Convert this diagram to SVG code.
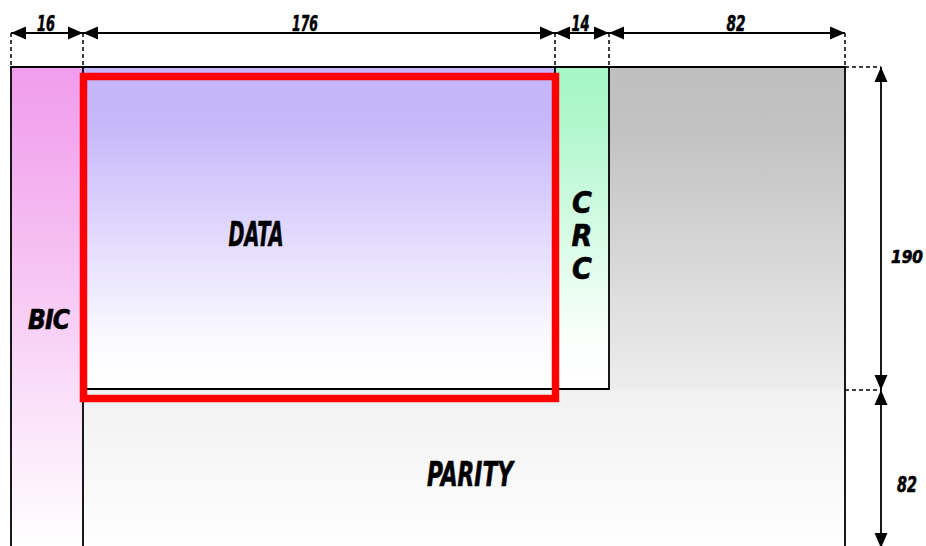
<svg xmlns="http://www.w3.org/2000/svg" width="926" height="546" viewBox="0 0 926 546">
<style>
.t{font-family:"Liberation Sans Narrow","DejaVu Sans Condensed","Liberation Sans",sans-serif;font-weight:bold;font-style:italic;fill:#000;stroke:#000;stroke-width:0.6;text-anchor:middle}
.ln{stroke:#000;stroke-width:1.8;fill:none}
.dim{stroke:#000;stroke-width:1.8;fill:none}
.dash{stroke:#000;stroke-width:1.5;stroke-dasharray:4,3;fill:none}
</style>
<defs>
<marker id="ah" markerUnits="userSpaceOnUse" markerWidth="16" markerHeight="14" refX="15" refY="6.5" orient="auto-start-reverse" viewBox="0 0 16 13">
<path d="M0,0 L15,6.5 L0,13 Z" fill="#000"/>
</marker>
<linearGradient id="gBic" x1="0" y1="67" x2="0" y2="546" gradientUnits="userSpaceOnUse">
<stop offset="0" stop-color="#f09ded"/><stop offset="0.15" stop-color="#f2a8ee"/><stop offset="1" stop-color="#ffffff"/>
</linearGradient>
<linearGradient id="gData" x1="0" y1="67" x2="0" y2="389" gradientUnits="userSpaceOnUse">
<stop offset="0" stop-color="#c5b5f9"/><stop offset="0.17" stop-color="#c6b7fa"/><stop offset="0.85" stop-color="#fbfaff"/><stop offset="1" stop-color="#ffffff"/>
</linearGradient>
<linearGradient id="gCrc" x1="0" y1="67" x2="0" y2="389" gradientUnits="userSpaceOnUse">
<stop offset="0" stop-color="#a6f6c6"/><stop offset="0.15" stop-color="#aef7cc"/><stop offset="0.85" stop-color="#fbfffc"/><stop offset="1" stop-color="#ffffff"/>
</linearGradient>
<linearGradient id="gGray" x1="0" y1="67" x2="0" y2="389" gradientUnits="userSpaceOnUse">
<stop offset="0" stop-color="#bfbfbf"/><stop offset="0.2" stop-color="#c2c2c2"/><stop offset="1" stop-color="#ededed"/>
</linearGradient>
<linearGradient id="gPar" x1="0" y1="389" x2="0" y2="546" gradientUnits="userSpaceOnUse">
<stop offset="0" stop-color="#f1f1f1"/><stop offset="1" stop-color="#fefefe"/>
</linearGradient>
</defs>

<g id="gray-area">
<rect x="609" y="67" width="236" height="322" fill="url(#gGray)"/>
</g>
<g id="parity">
<rect x="83" y="389" width="762" height="160" fill="url(#gPar)"/>
<text class="t" x="470" y="486" font-size="34" textLength="86" lengthAdjust="spacingAndGlyphs">PARITY</text>
</g>
<g id="bic">
<rect x="11" y="67" width="72" height="482" fill="url(#gBic)"/>
<text class="t" x="49" y="329" font-size="26" textLength="42" lengthAdjust="spacing">BIC</text>
</g>
<g id="data">
<rect x="83" y="67" width="472" height="322" fill="url(#gData)"/>
<text class="t" x="256" y="246" font-size="34" textLength="55" lengthAdjust="spacingAndGlyphs">DATA</text>
</g>
<g id="crc">
<rect x="555" y="67" width="54" height="322" fill="url(#gCrc)"/>
<text class="t" x="582" y="213" font-size="30">C</text>
<text class="t" x="582" y="246" font-size="30">R</text>
<text class="t" x="582" y="279" font-size="30">C</text>
</g>

<g id="outlines">
<path class="ln" d="M11,549 V67 H845 V549"/>
<path class="ln" d="M83,549 V389 H609 V67"/>
<line class="ln" x1="83" y1="67" x2="83" y2="389"/>
<line class="ln" x1="555" y1="67" x2="555" y2="389" stroke-width="1.2"/>
</g>

<g id="highlight">
<rect x="83.5" y="76.5" width="472" height="322" fill="none" stroke="#ff0000" stroke-width="7.5"/>
</g>

<g id="connectors">
<line class="dash" x1="11" y1="33" x2="11" y2="67"/>
<line class="dash" x1="83" y1="33" x2="83" y2="67"/>
<line class="dash" x1="555" y1="33" x2="555" y2="67"/>
<line class="dash" x1="609" y1="33" x2="609" y2="67"/>
<line class="dash" x1="845" y1="33" x2="845" y2="67"/>
<line class="dash" x1="845" y1="67" x2="881" y2="67"/>
<line class="dash" x1="845" y1="390" x2="881" y2="390"/>
<line class="dim" x1="11" y1="33" x2="83" y2="33" marker-start="url(#ah)" marker-end="url(#ah)"/>
<line class="dim" x1="83" y1="33" x2="555" y2="33" marker-start="url(#ah)" marker-end="url(#ah)"/>
<line class="dim" x1="555" y1="33" x2="609" y2="33" marker-start="url(#ah)" marker-end="url(#ah)"/>
<line class="dim" x1="609" y1="33" x2="845" y2="33" marker-start="url(#ah)" marker-end="url(#ah)"/>
<line class="dim" x1="881" y1="67" x2="881" y2="390" marker-start="url(#ah)" marker-end="url(#ah)"/>
<line class="dim" x1="881" y1="390" x2="881" y2="548" marker-start="url(#ah)" marker-end="url(#ah)"/>
</g>

<g id="labels">
<text class="t" x="46" y="31" font-size="22" textLength="18" lengthAdjust="spacingAndGlyphs">16</text>
<text class="t" x="305" y="31" font-size="22" textLength="26" lengthAdjust="spacingAndGlyphs">176</text>
<text class="t" x="580.5" y="31" font-size="22" textLength="18" lengthAdjust="spacingAndGlyphs">14</text>
<text class="t" x="736" y="31" font-size="22" textLength="19" lengthAdjust="spacingAndGlyphs">82</text>
<text class="t" x="907" y="263" font-size="17">190</text>
<text class="t" x="907" y="492" font-size="22" textLength="20" lengthAdjust="spacingAndGlyphs">82</text>
</g>
</svg>
